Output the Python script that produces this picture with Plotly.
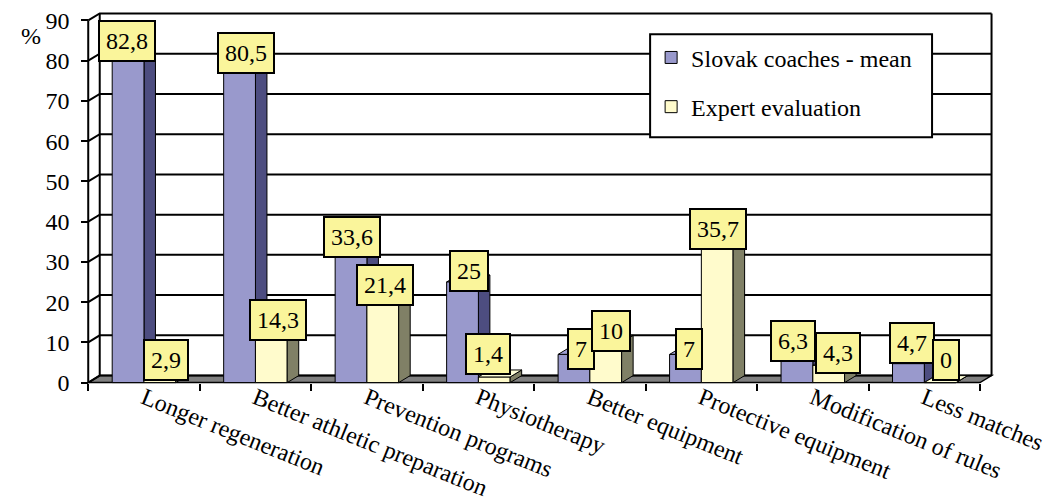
import plotly.graph_objects as go

# ---- data -------------------------------------------------------------
categories = [
    "Longer regeneration",
    "Better athletic preparation",
    "Prevention programs",
    "Physiotherapy",
    "Better equipment",
    "Protective equipment",
    "Modification of rules",
    "Less matches",
]
slovak_mean = [82.8, 80.5, 33.6, 25, 7, 7, 6.3, 4.7]
expert_eval = [2.9, 14.3, 21.4, 1.4, 10, 35.7, 4.3, 0]
y_ticks = [0, 10, 20, 30, 40, 50, 60, 70, 80, 90]
series_names = ["Slovak coaches - mean", "Expert evaluation"]

# ---- styling ----------------------------------------------------------
FONT = "Liberation Serif"
FS = 24
SLOVAK_FRONT, SLOVAK_SIDE, SLOVAK_TOP = "#9999CC", "#4D4D80", "#A0A0D4"
EXPERT_FRONT, EXPERT_SIDE, EXPERT_TOP = "#FFFBCC", "#808066", "#FFFFD8"
FLOOR = "#808080"
LABEL_FILL = "#FAF59B"

# pseudo-3D geometry: pixel sizes of one category / one percent and of the depth
CAT_PX = 111.5
UNIT_PX = 363 / 90
DEPTH_PX = (11.5, 7.0)
DX = DEPTH_PX[0] / CAT_PX
DY = DEPTH_PX[1] / UNIT_PX
BW = 0.285  # width of one bar in category units
Y_MAX = 90

n = len(categories)
X0, X1 = -0.52, n - 0.5 + DX + 0.04
Y0, Y1 = -0.35, Y_MAX + DY + 0.35
W = (X1 - X0) * CAT_PX
H = (Y1 - Y0) * UNIT_PX
FRONT_LEFT, FLOOR_Y = 88, 383
L = FRONT_LEFT - (-0.5 - X0) * CAT_PX
BOTTOM = FLOOR_Y + (0 - Y0) * UNIT_PX
T = BOTTOM - H
B = 501 - BOTTOM
R = 1062 - L - W


def px_x(px):
    return (px - L) / W


def px_y(px):
    return 1 - (px - T) / H


# small per-label nudges (px) that keep the value boxes clear of each other
slovak_nudge = [(-7, 5), (1, 2), (-5, 7), (1, 7), (1, 2), (-2, 2), (-10, 13), (-2, 17)]
expert_nudge = [(0, 7), (1, 2), (-4, 8), (-12, 19), (-1, 8), (-5, 6), (4, 9), (0, 19)]

shapes = []


def line(path, layer="below", width=2):
    shapes.append(dict(type="path", path=path, xref="x", yref="y", layer=layer,
                       line=dict(color="black", width=width)))


def poly(pts, fill, layer, width=1):
    d = "M" + " L".join(f"{x:.4f},{y:.4f}" for x, y in pts) + " Z"
    shapes.append(dict(type="path", path=d, xref="x", yref="y", layer=layer,
                       fillcolor=fill, line=dict(color="black", width=width)))


xl, xr = -0.5, n - 0.5
# floor
poly([(xl, 0), (xl + DX, DY), (xr + DX, DY), (xr, 0)], FLOOR, "below", 1.5)
# side wall ticks + back wall gridlines
for v in y_ticks:
    line(f"M{xl},{v} L{xl + DX},{v + DY} L{xr + DX},{v + DY}")
# back wall verticals
line(f"M{xl + DX},{DY} L{xl + DX},{Y_MAX + DY}")
line(f"M{xr + DX},{DY} L{xr + DX},{Y_MAX + DY}")
# front vertical axis
line(f"M{xl},0 L{xl},{Y_MAX}")


def faces(x_left, x_right, v, side, top, layer):
    poly([(x_right, 0), (x_right + DX, DY), (x_right + DX, v + DY), (x_right, v)], side, layer)
    poly([(x_left, v), (x_left + DX, v + DY), (x_right + DX, v + DY), (x_right, v)], top, layer)


for i, (s, e) in enumerate(zip(slovak_mean, expert_eval)):
    faces(i - BW, i, s, SLOVAK_SIDE, SLOVAK_TOP, "below")
    faces(i, i + BW, e, EXPERT_SIDE, EXPERT_TOP, "above")

# framed white panel behind the legend entries
shapes.append(dict(type="rect", xref="paper", yref="paper", layer="above",
                   x0=px_x(650), x1=px_x(932), y0=px_y(137), y1=px_y(34),
                   fillcolor="white", line=dict(color="black", width=2)))

fig = go.Figure()
fig.add_trace(go.Bar(
    x=categories, y=slovak_mean, name=series_names[0], legendgroup="a",
    width=BW, offset=-BW, marker=dict(color=SLOVAK_FRONT, line=dict(color="black", width=1)),
))
fig.add_trace(go.Bar(
    x=categories, y=expert_eval, name=series_names[1], legendgroup="b",
    width=BW, offset=0, marker=dict(color=EXPERT_FRONT, line=dict(color="black", width=1)),
))


def fmt(v):
    return f"{v:g}".replace(".", ",")


annotations = []
for i in range(n):
    for vals, sign, nudge in ((slovak_mean, -1, slovak_nudge), (expert_eval, 1, expert_nudge)):
        v = vals[i]
        annotations.append(dict(
            x=i + sign * BW / 2 + DX / 2, y=v + DY / 2, xref="x", yref="y",
            text=fmt(v), showarrow=False, xshift=nudge[i][0], yshift=nudge[i][1],
            font=dict(family=FONT, size=FS, color="black"),
            bgcolor=LABEL_FILL, bordercolor="black", borderwidth=2, borderpad=6,
        ))

annotations.append(dict(
    x=px_x(19), y=px_y(20.5), xref="paper", yref="paper",
    text="%", showarrow=False, font=dict(family=FONT, size=FS, color="black"),
))

fig.update_layout(
    width=1062, height=501, autosize=False,
    margin=dict(l=L, r=R, t=T, b=B, pad=0, autoexpand=False),
    paper_bgcolor="white", plot_bgcolor="white",
    font=dict(family=FONT, size=FS, color="black"),
    barmode="overlay",
    shapes=shapes, annotations=annotations,
    showlegend=True,
    legend=dict(
        x=px_x(651), y=px_y(35), xanchor="left", yanchor="top",
        bgcolor="rgba(0,0,0,0)", borderwidth=0,
        font=dict(family=FONT, size=FS, color="black"),
        traceorder="grouped", tracegroupgap=15,
    ),
    xaxis=dict(
        type="category", range=[X0, X1], anchor="free", position=(0 - Y0) / (Y1 - Y0),
        automargin=False, showgrid=False, zeroline=False, showline=False,
        tickson="boundaries", ticks="outside", ticklen=7, tickwidth=2, tickcolor="black",
        tickangle=22, ticklabelstandoff=-4,
        tickfont=dict(family=FONT, size=FS, color="black"),
        fixedrange=True,
    ),
    yaxis=dict(
        range=[Y0, Y1], anchor="free", position=(-0.5 - X0) / (X1 - X0),
        automargin=False, tickvals=y_ticks, showgrid=False, zeroline=False, showline=False,
        ticks="outside", ticklen=7, tickwidth=2, tickcolor="black",
        ticklabelstandoff=7,
        tickfont=dict(family=FONT, size=FS, color="black"),
        fixedrange=True,
    ),
)

fig.write_html("out.html")
